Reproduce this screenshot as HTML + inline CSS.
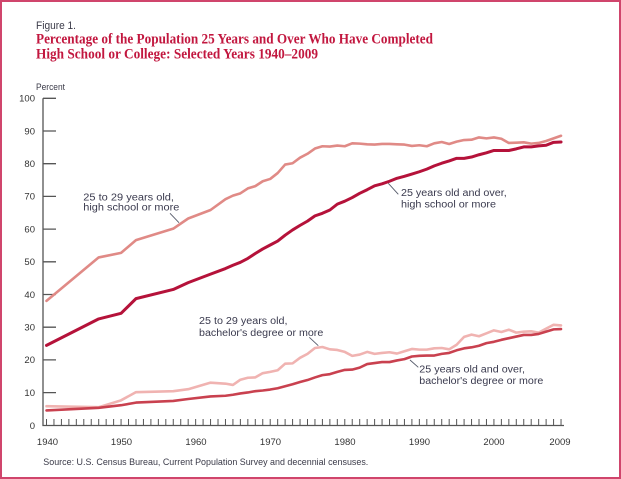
<!DOCTYPE html>
<html><head><meta charset="utf-8"><style>
html,body{margin:0;padding:0;background:#fff;}
svg{display:block;}
</style></head><body>
<svg width="621" height="479" viewBox="0 0 621 479" xmlns="http://www.w3.org/2000/svg">
<rect x="1" y="1" width="619" height="477" fill="#fff" stroke="#d0456c" stroke-width="2"/>
<g font-family="Liberation Sans, sans-serif" fill="#3a3a48">
<text x="36" y="29" font-size="11" textLength="40" lengthAdjust="spacingAndGlyphs">Figure 1.</text>
<text x="36" y="90" font-size="9.5" textLength="29" lengthAdjust="spacingAndGlyphs">Percent</text>
</g>
<g font-family="Liberation Serif, serif" font-weight="bold" fill="#c2173f" font-size="14.5">
<text x="36" y="43.3" textLength="397" lengthAdjust="spacingAndGlyphs">Percentage of the Population 25 Years and Over Who Have Completed</text>
<text x="36" y="58.5" textLength="282" lengthAdjust="spacingAndGlyphs">High School or College: Selected Years 1940–2009</text>
</g>
<!-- axes -->
<g stroke="#555" stroke-width="1.3" fill="none">
<path d="M43 98.3V425.5H564"/>
<path d="M43 98.3h13M43 131h13M43 163.7h13M43 196.4h13M43 229.1h13M43 261.8h13M43 294.5h13M43 327.2h13M43 359.9h13M43 392.6h13"/>
</g>
<line x1="46" y1="422.25" x2="563" y2="422.25" stroke="#555" stroke-width="6.5" stroke-dasharray="1 6.457"/>
<g font-family="Liberation Sans, sans-serif" font-size="9.5" fill="#333" text-anchor="end">
<text x="35" y="101.6">100</text>
<text x="35" y="134.3">90</text>
<text x="35" y="167">80</text>
<text x="35" y="199.7">70</text>
<text x="35" y="232.4">60</text>
<text x="35" y="265.1">50</text>
<text x="35" y="297.8">40</text>
<text x="35" y="330.5">30</text>
<text x="35" y="363.2">20</text>
<text x="35" y="395.9">10</text>
<text x="35" y="428.8">0</text>
</g>
<g font-family="Liberation Sans, sans-serif" font-size="9.5" fill="#333" text-anchor="middle">
<text x="47.5" y="445">1940</text>
<text x="121.5" y="445">1950</text>
<text x="196" y="445">1960</text>
<text x="270.5" y="445">1970</text>
<text x="345" y="445">1980</text>
<text x="419.5" y="445">1990</text>
<text x="494" y="445">2000</text>
<text x="560" y="445">2009</text>
</g>
<text x="43.3" y="465" font-family="Liberation Sans, sans-serif" font-size="9.5" fill="#3a3a48" textLength="325" lengthAdjust="spacingAndGlyphs">Source: U.S. Census Bureau, Current Population Survey and decennial censuses.</text>

<!-- data -->
<g transform="translate(46.5 425.5) scale(7.457 -3.27)" fill="none" stroke-linejoin="round" stroke-linecap="round">
<polyline vector-effect="non-scaling-stroke" stroke="#f0b3b1" stroke-width="2.6" points="0,5.9 7,5.6 10,7.7 12,10.2 17,10.5 19,11.1 22,13.1 24,12.8 25,12.4 26,14.0 27,14.6 28,14.7 29,16.0 30,16.4 31,16.9 32,18.9 33,19.0 34,20.7 35,21.9 36,23.7 37,24.0 38,23.3 39,23.1 40,22.5 41,21.3 42,21.7 43,22.5 44,21.9 45,22.2 46,22.4 47,22.0 48,22.7 49,23.4 50,23.2 51,23.2 52,23.6 53,23.7 54,23.3 55,24.7 56,27.1 57,27.8 58,27.3 59,28.2 60,29.1 61,28.6 62,29.3 63,28.4 64,28.7 65,28.8 66,28.4 67,29.6 68,30.8 69,30.6"/>
<polyline vector-effect="non-scaling-stroke" stroke="#c9414f" stroke-width="2.6" points="0,4.6 7,5.4 10,6.2 12,7.0 17,7.5 19,8.1 22,8.9 24,9.1 25,9.4 26,9.8 27,10.1 28,10.5 29,10.7 30,11.0 31,11.4 32,12.0 33,12.6 34,13.3 35,13.9 36,14.7 37,15.4 38,15.7 39,16.4 40,17.0 41,17.1 42,17.7 43,18.8 44,19.1 45,19.4 46,19.4 47,19.9 48,20.3 49,21.1 50,21.3 51,21.4 52,21.4 53,21.9 54,22.2 55,23.0 56,23.6 57,23.9 58,24.4 59,25.2 60,25.6 61,26.2 62,26.7 63,27.2 64,27.7 65,27.7 66,28.0 67,28.7 68,29.4 69,29.5"/>
<polyline vector-effect="non-scaling-stroke" stroke="#e08a86" stroke-width="2.6" points="0,38.1 7,51.4 10,52.8 12,56.7 17,60.2 19,63.3 22,65.9 24,69.2 25,70.3 26,71.0 27,72.5 28,73.2 29,74.7 30,75.4 31,77.2 32,79.8 33,80.2 34,81.9 35,83.1 36,84.7 37,85.4 38,85.3 39,85.6 40,85.4 41,86.3 42,86.2 43,86.0 44,85.9 45,86.1 46,86.1 47,86.0 48,85.9 49,85.5 50,85.7 51,85.4 52,86.3 53,86.7 54,86.1 55,86.8 56,87.3 57,87.4 58,88.1 59,87.8 60,88.1 61,87.7 62,86.4 63,86.5 64,86.6 65,86.2 66,86.4 67,87.0 68,87.8 69,88.6"/>
<polyline vector-effect="non-scaling-stroke" stroke="#b5123a" stroke-width="3" points="0,24.5 7,32.6 10,34.3 12,38.8 17,41.6 19,43.7 22,46.3 24,48.0 25,49.0 26,49.9 27,51.1 28,52.6 29,54.0 30,55.2 31,56.4 32,58.2 33,59.8 34,61.2 35,62.5 36,64.1 37,64.9 38,65.9 39,67.7 40,68.6 41,69.7 42,71.0 43,72.1 44,73.3 45,73.9 46,74.7 47,75.6 48,76.2 49,76.9 50,77.6 51,78.4 52,79.4 53,80.2 54,80.9 55,81.7 56,81.7 57,82.1 58,82.8 59,83.4 60,84.1 61,84.1 62,84.1 63,84.6 64,85.2 65,85.2 66,85.5 67,85.7 68,86.6 69,86.7"/>
</g>

<!-- leaders -->
<g stroke="#555a6a" stroke-width="0.9" fill="none">
<path d="M170 213.3L179 222.7"/>
<path d="M388.3 183.3L398.3 194.3"/>
<path d="M309.3 337.3L318.3 345.7"/>
<path d="M410 360L418.3 367.3"/>
</g>
<g font-family="Liberation Sans, sans-serif" font-size="10" fill="#3a3a4e">
<text x="83.3" y="200.7" textLength="90.7" lengthAdjust="spacingAndGlyphs">25 to 29 years old,</text>
<text x="83.3" y="210.7" textLength="96" lengthAdjust="spacingAndGlyphs">high school or more</text>
<text x="401" y="196" textLength="105.7" lengthAdjust="spacingAndGlyphs">25 years old and over,</text>
<text x="401" y="207.5" textLength="95" lengthAdjust="spacingAndGlyphs">high school or more</text>
<text x="199" y="324" textLength="88.5" lengthAdjust="spacingAndGlyphs">25 to 29 years old,</text>
<text x="199" y="336" textLength="124.3" lengthAdjust="spacingAndGlyphs">bachelor's degree or more</text>
<text x="419.3" y="372.7" textLength="105.7" lengthAdjust="spacingAndGlyphs">25 years old and over,</text>
<text x="419.3" y="384" textLength="124" lengthAdjust="spacingAndGlyphs">bachelor's degree or more</text>
</g>
</svg>
</body></html>
